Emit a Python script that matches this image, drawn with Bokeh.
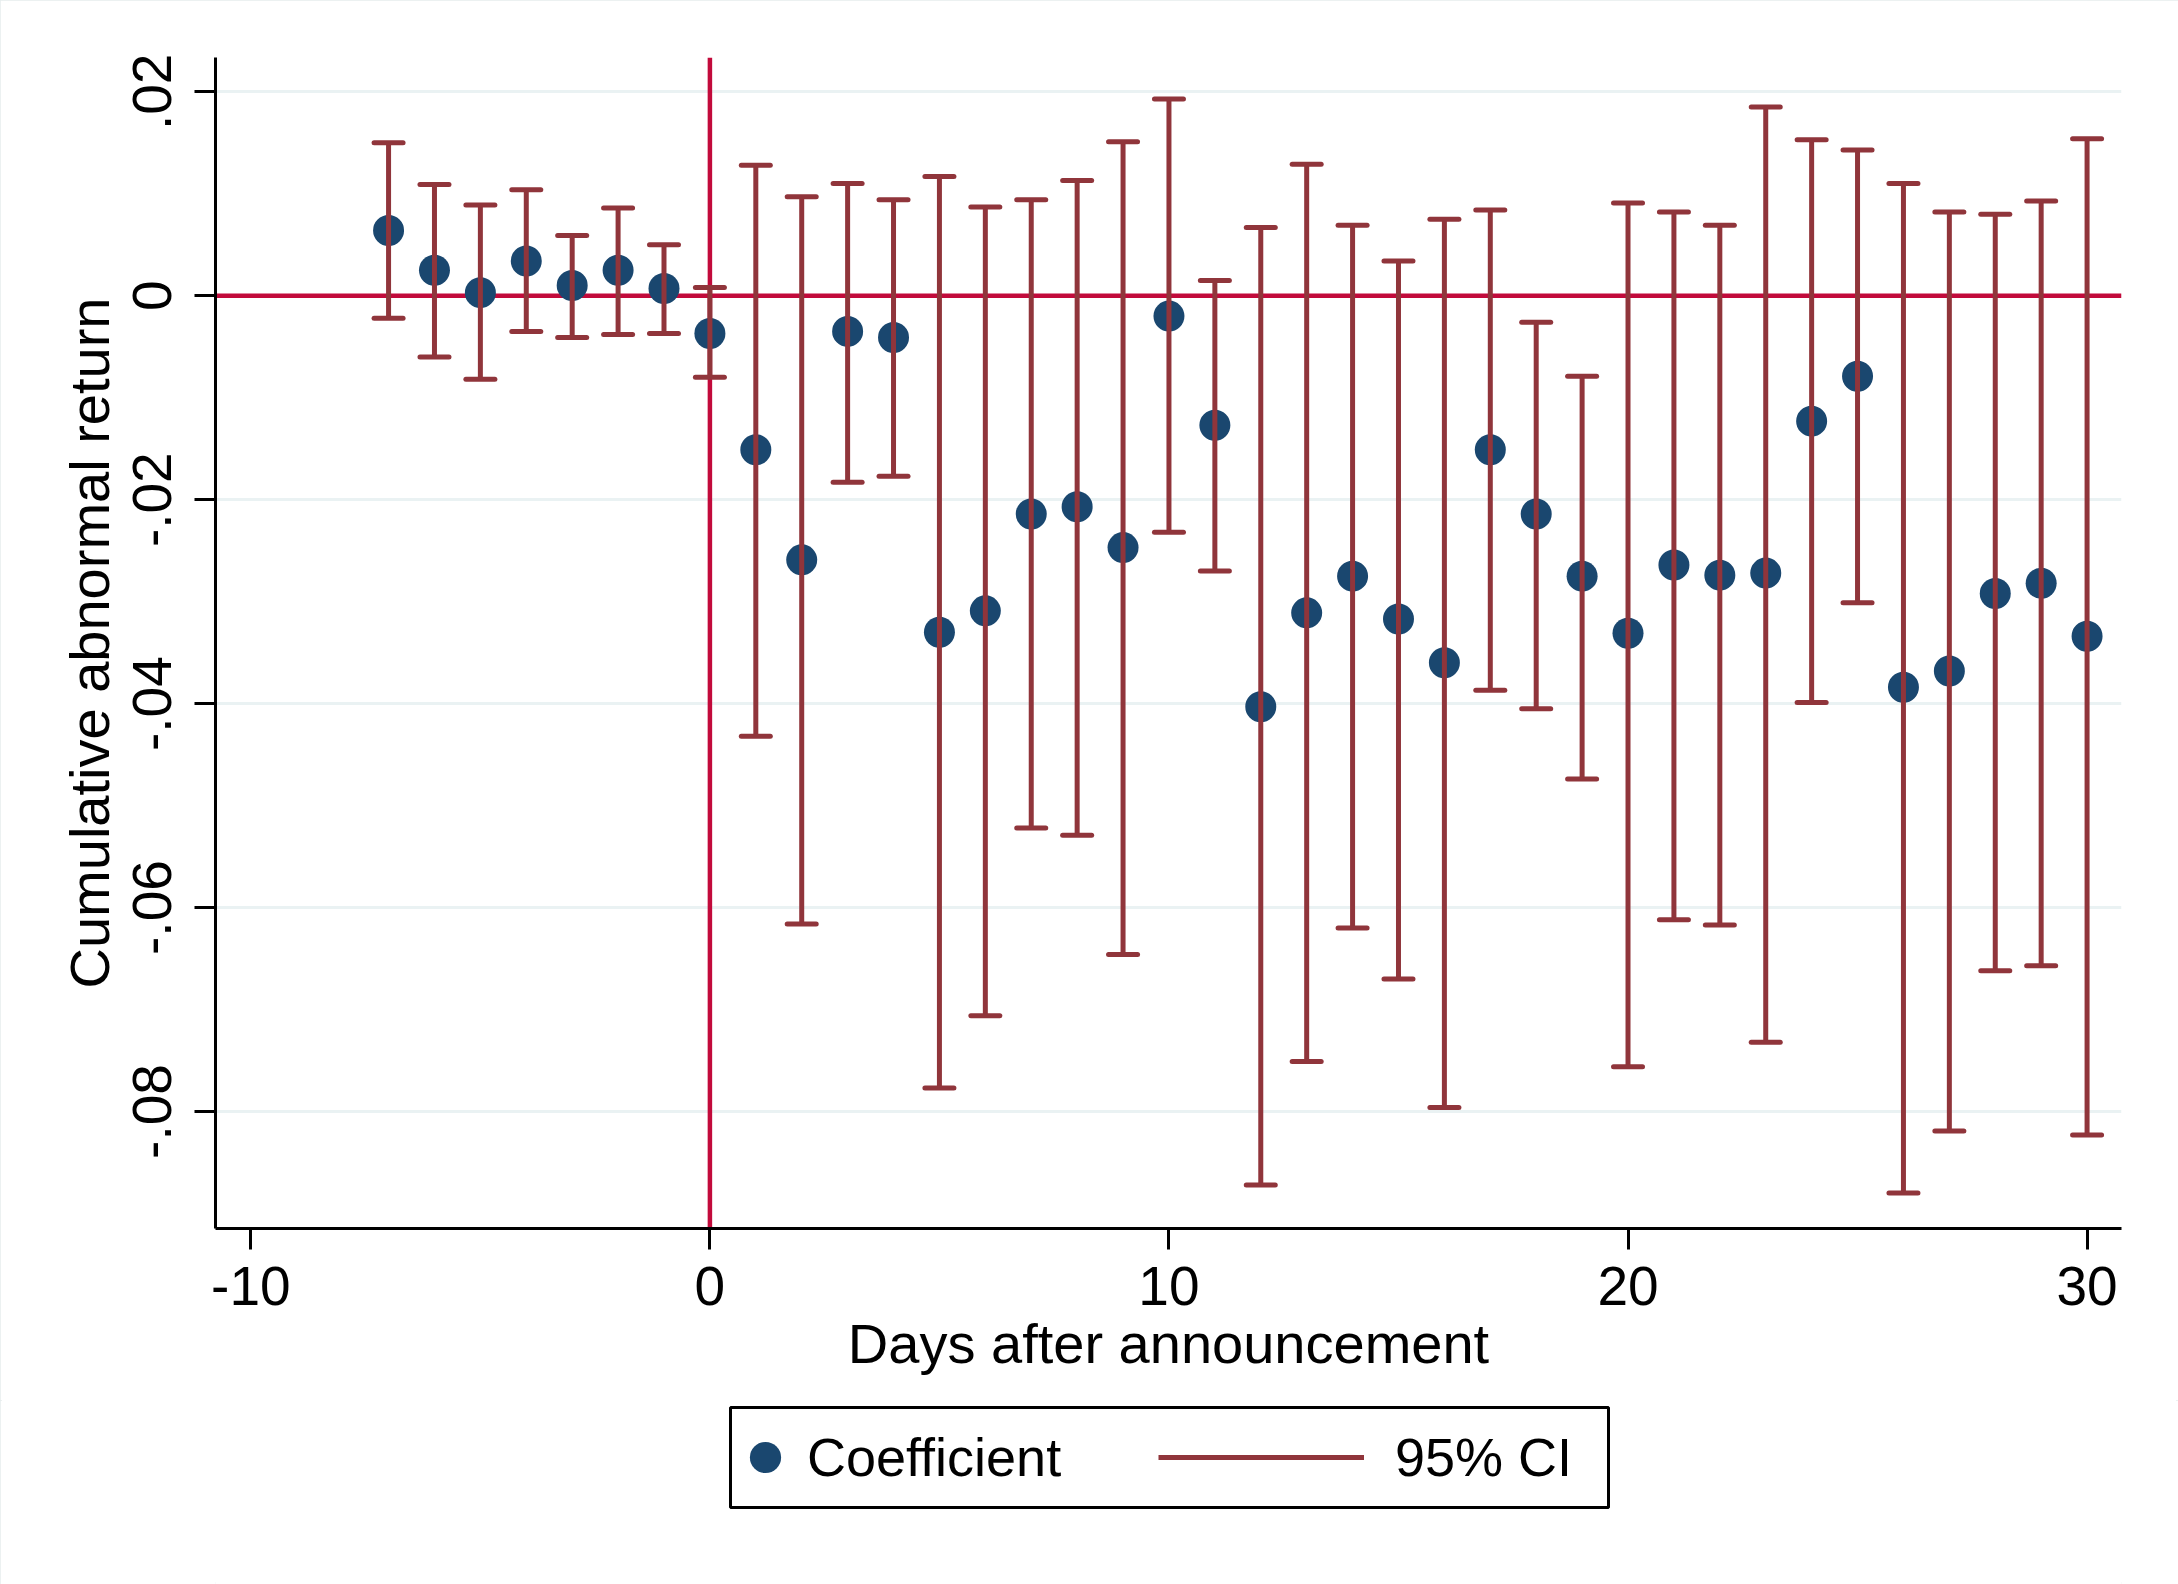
from bokeh.plotting import figure
from bokeh.layouts import column
from bokeh.models import (Range1d, FixedTicker, Span, Legend, LegendItem,
                          BoxAnnotation, ColumnDataSource)
from bokeh.embed import file_html
from bokeh.resources import INLINE

# ---------------- data ----------------
days = list(range(-7, 31))
coef = [0.0064, 0.0025, 0.0003, 0.0034, 0.0010, 0.0025, 0.0007,
        -0.0037,
        -0.0151, -0.0259, -0.0035, -0.0041, -0.0330, -0.0309, -0.0214, -0.0207,
        -0.0247, -0.0020, -0.0127, -0.0403, -0.0311, -0.0275, -0.0317, -0.0360,
        -0.0151, -0.0214, -0.0275, -0.0331, -0.0264, -0.0274, -0.0272, -0.0123,
        -0.0079, -0.0384, -0.0368, -0.0292, -0.0282, -0.0334]
ci_upper = [0.0150, 0.0109, 0.0089, 0.0104, 0.0059, 0.0086, 0.0050,
            0.0008,
            0.0128, 0.0097, 0.0110, 0.0094, 0.0117, 0.0087, 0.0094, 0.0113,
            0.0151, 0.0193, 0.0015, 0.0067, 0.0129, 0.0069, 0.0034, 0.0075,
            0.0084, -0.0026, -0.0079, 0.0091, 0.0082, 0.0069, 0.0185, 0.0153,
            0.0143, 0.0110, 0.0082, 0.0080, 0.0093, 0.0154]
ci_lower = [-0.0022, -0.0060, -0.0082, -0.0035, -0.0041, -0.0038, -0.0037,
            -0.0080,
            -0.0432, -0.0616, -0.0183, -0.0177, -0.0777, -0.0706, -0.0522, -0.0529,
            -0.0646, -0.0232, -0.0270, -0.0872, -0.0751, -0.0620, -0.0670, -0.0796,
            -0.0387, -0.0405, -0.0474, -0.0756, -0.0612, -0.0617, -0.0732, -0.0399,
            -0.0301, -0.0880, -0.0819, -0.0662, -0.0657, -0.0823]

x_ticks = [-10, 0, 10, 20, 30]
x_tick_labels = ["-10", "0", "10", "20", "30"]
y_ticks = [-0.08, -0.06, -0.04, -0.02, 0, 0.02]
y_tick_labels = ["-.08", "-.06", "-.04", "-.02", "0", ".02"]

x_title = "Days after announcement"
y_title = "Cumulative abnormal return"
legend_labels = ["Coefficient", "95% CI"]

# ---------------- styles ----------------
FONT = "Liberation Sans"
NAVY = "#1a476f"
MAROON = "#90353b"
RED = "#c20a3b"
GRID = "#eaf2f3"

W = 2178
H_MAIN = 1400
H_LEG = 184

p = figure(width=W, height=H_MAIN, output_backend="svg", toolbar_location=None,
           x_range=Range1d(-10.77, 30.75), y_range=Range1d(-0.09147, 0.02336))
p.min_border_left = 215
p.min_border_right = 57
p.min_border_top = 57
p.min_border_bottom = 172
p.outline_line_color = None
p.background_fill_color = "white"
p.border_fill_color = "white"

p.xaxis.ticker = FixedTicker(ticks=x_ticks)
p.xaxis.major_label_overrides = dict(zip(x_ticks, x_tick_labels))
p.yaxis.ticker = FixedTicker(ticks=y_ticks)
p.yaxis.major_label_overrides = dict(zip(y_ticks, y_tick_labels))
p.xaxis.axis_label = x_title
p.yaxis.axis_label = y_title
p.yaxis.major_label_orientation = "vertical"

for ax in (p.xaxis[0], p.yaxis[0]):
    ax.axis_line_width = 3
    ax.axis_line_color = "black"
    ax.major_tick_line_width = 3
    ax.major_tick_line_color = "black"
    ax.major_tick_out = 21
    ax.major_tick_in = 0
    ax.minor_tick_out = 0
    ax.minor_tick_in = 0
    ax.major_label_text_font = FONT
    ax.major_label_text_font_size = "55px"
    ax.major_label_text_color = "black"
    ax.axis_label_text_font = FONT
    ax.axis_label_text_font_size = "56px"
    ax.axis_label_text_font_style = "normal"
    ax.axis_label_text_color = "black"

p.xaxis.major_label_standoff = 17
p.xaxis.axis_label_standoff = 4
p.yaxis.major_label_standoff = 23
p.yaxis.axis_label_standoff = 10

p.xgrid.visible = False
p.ygrid.ticker = FixedTicker(ticks=y_ticks)
p.ygrid.grid_line_color = GRID
p.ygrid.grid_line_width = 3

p.add_layout(Span(location=0, dimension="width", line_color=RED, line_width=4.5, level="underlay"))
p.add_layout(Span(location=0, dimension="height", line_color=RED, line_width=4.5, level="underlay"))

src = ColumnDataSource(dict(day=days, coef=coef, upper=ci_upper, lower=ci_lower))
pt_style = dict(size=31, fill_color=NAVY, line_color=None)
seg_style = dict(line_color=MAROON, line_width=5)
cap_style = dict(marker="dash", size=29, line_color=MAROON, line_width=5, line_cap="round")

p.scatter("day", "coef", source=src, **pt_style)
p.segment(x0="day", y0="lower", x1="day", y1="upper", source=src, **seg_style)
p.scatter("day", "upper", source=src, **cap_style)
p.scatter("day", "lower", source=src, **cap_style)

# ---------------- legend strip ----------------
pl = figure(width=W, height=H_LEG, output_backend="svg", toolbar_location=None,
            x_range=Range1d(0, 1), y_range=Range1d(0, 1), min_border=0,
            x_axis_location=None, y_axis_location=None)
pl.outline_line_color = None
pl.xgrid.visible = False
pl.ygrid.visible = False
pl.background_fill_color = "white"
pl.border_fill_color = "white"

lg_pts = pl.scatter("day", "coef", source=src, visible=False, **pt_style)
lg_seg = pl.segment(x0="day", y0="lower", x1="day", y1="upper", source=src,
                    visible=False, **seg_style)

# the strip's frame is aligned with the main plot's frame (left edge at x=215)
common = dict(padding=0, margin=0, border_line_color=None, background_fill_alpha=0,
              label_text_font=FONT, label_text_font_size="54px", label_text_color="black",
              spacing=0, click_policy="none")
leg_a = Legend(items=[LegendItem(label=legend_labels[0], renderers=[lg_pts])],
               location=(511, 88), glyph_width=78, glyph_height=78, label_height=78,
               label_standoff=3, **common)
leg_b = Legend(items=[LegendItem(label=legend_labels[1], renderers=[lg_seg])],
               location=(943, 88), glyph_width=206, glyph_height=78, label_height=78,
               label_standoff=31, **common)
pl.add_layout(leg_a)
pl.add_layout(leg_b)
pl.add_layout(BoxAnnotation(left=515, right=1393, bottom=77, top=177,
                            left_units="screen", right_units="screen",
                            top_units="screen", bottom_units="screen",
                            fill_alpha=0, line_color="black", line_width=3, line_alpha=1))

layout = column(p, pl, spacing=0,
                styles={"outline": "2px solid #e6eced", "outline-offset": "-2px"})
open("out.html", "w").write(file_html(layout, INLINE))
